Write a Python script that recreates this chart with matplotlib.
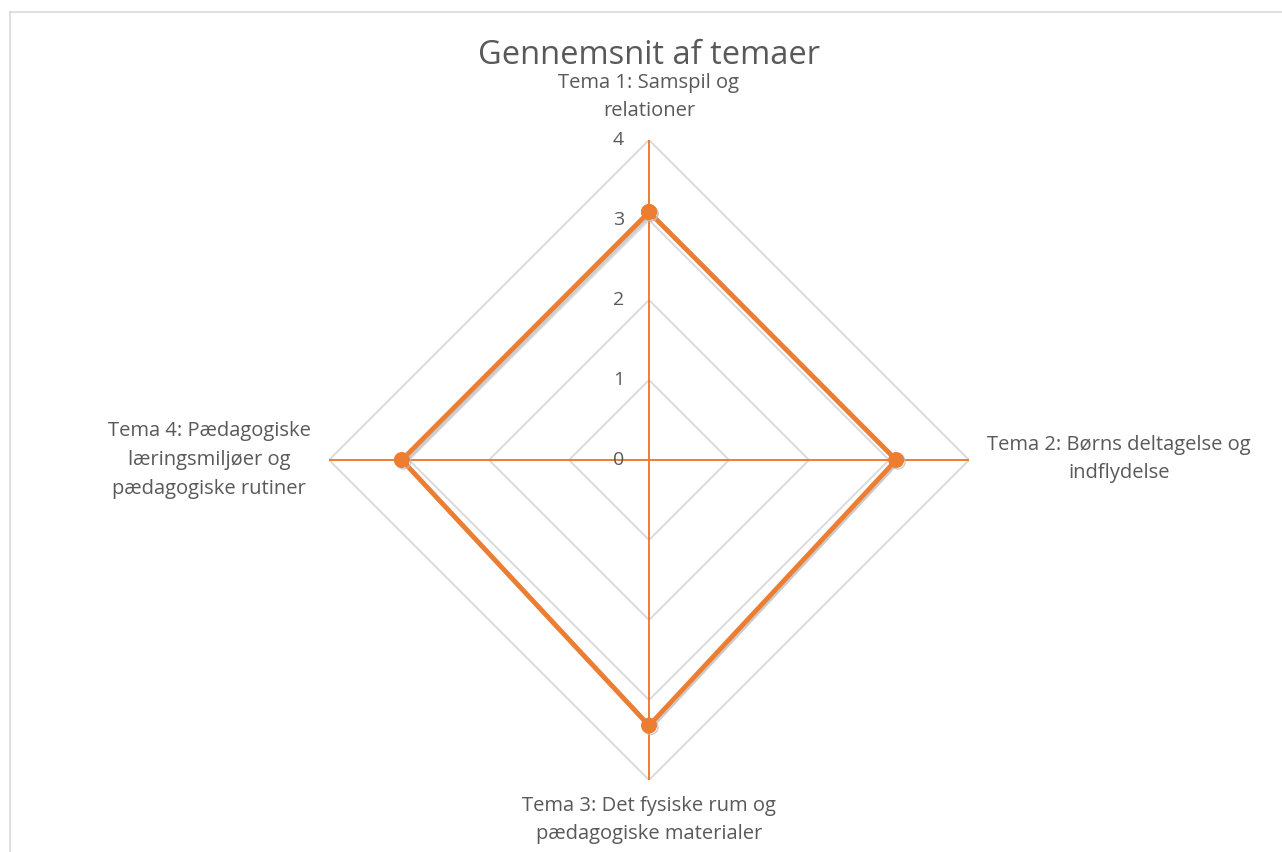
import numpy as np
import matplotlib
matplotlib.use("Agg")
import matplotlib.pyplot as plt
import matplotlib.patheffects as pe
from matplotlib.lines import Line2D

categories = ["Tema 1: Samspil og\nrelationer",
              "Tema 2: Børns deltagelse og\nindflydelse",
              "Tema 3: Det fysiske rum og\npædagogiske materialer",
              "Tema 4: Pædagogiske\nlæringsmiljøer og\npædagogiske rutiner"]
values = [3.1, 3.09, 3.32, 3.09]
r_ticks = [0, 1, 2, 3, 4]
title = "Gennemsnit af temaer"

ORANGE = "#ED7D31"
GRID = "#D9D9D9"
TEXT = "#595959"
plt.rcParams['font.family'] = ['Open Sans', 'DejaVu Sans']

fig = plt.figure(figsize=(12.82, 8.52), dpi=100)
W, H = 1282, 852
cx, cy, R = 649, 460, 320
ax = fig.add_axes([(cx - R) / W, (H - cy - R) / H, 2 * R / W, 2 * R / H], projection='polar')
ax.set_theta_offset(np.pi / 2)
ax.set_theta_direction(-1)
ax.set_ylim(0, 4)
ax.grid(False)
ax.spines['polar'].set_visible(False)
ax.set_xticks([])
ax.set_yticks([])
ax.patch.set_alpha(0)

n = len(categories)
theta = np.arange(n) * 2 * np.pi / n
theta_c = np.append(theta, theta[0])

# polygon grid
for r in r_ticks[1:]:
    ax.plot(theta_c, [r] * (n + 1), color=GRID, lw=1.3, zorder=1)
# spokes
for t in theta:
    ax.plot([t, t], [0, r_ticks[-1]], color=ORANGE, lw=1.4, zorder=2)

vals_c = values + [values[0]]
ax.plot(theta_c, vals_c, color=ORANGE, lw=3.4, marker='o', markersize=10.5, zorder=4,
        solid_joinstyle='miter',
        path_effects=[pe.SimpleLineShadow(offset=(1.2, -1.2), shadow_color='#BFBFBF', alpha=0.8),
                      pe.Normal()])

# radial labels
for r in r_ticks:
    ax.annotate(str(r), xy=(0, r), xytext=(-25, 0), textcoords='offset pixels',
                ha='right', va='center', fontsize=14, color=TEXT, zorder=5)

# category labels (figure pixel positions)
fs = 14.5
fig.text(cx / W, 1 - 97 / H, categories[0], ha='center', va='center', fontsize=fs, color=TEXT,
         linespacing=1.48)
fig.text(1119 / W, 1 - 459 / H, categories[1], ha='center', va='center', fontsize=fs, color=TEXT,
         linespacing=1.48)
fig.text(cx / W, 1 - 820 / H, categories[2], ha='center', va='center', fontsize=fs, color=TEXT,
         linespacing=1.48)
fig.text(209 / W, 1 - 460 / H, categories[3], ha='center', va='center', fontsize=fs, color=TEXT,
         linespacing=1.6)

fig.text(cx / W, 1 - 55 / H, title, ha='center', va='center', fontsize=23.5, color=TEXT)

# chart border (top & left visible)
fig.add_artist(Line2D([9.5 / W, 1], [1 - 11.5 / H, 1 - 11.5 / H], color=GRID, lw=1.2))
fig.add_artist(Line2D([9.5 / W, 9.5 / W], [0, 1 - 11.5 / H], color=GRID, lw=1.2))

fig.savefig("out.png", dpi=100)
